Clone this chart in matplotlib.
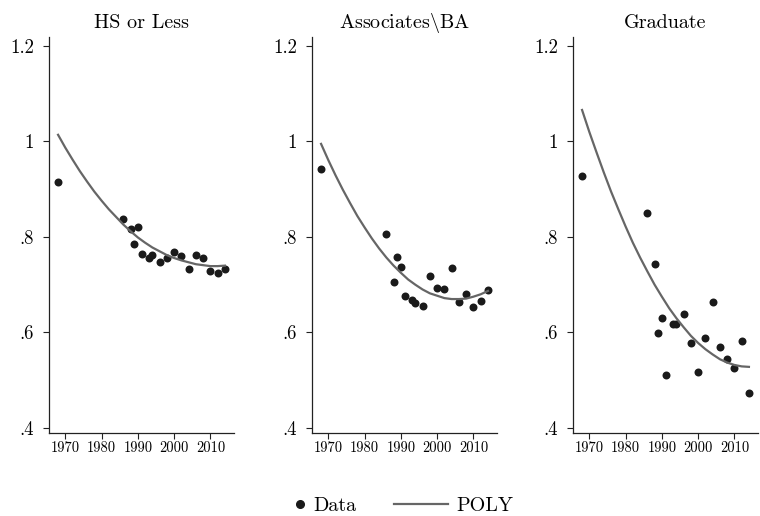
import numpy as np
import matplotlib
matplotlib.use("Agg")
import matplotlib.pyplot as plt
from matplotlib.lines import Line2D

plt.rcParams['font.family'] = 'serif'
plt.rcParams['font.serif'] = ['cmr10']
plt.rcParams['mathtext.fontset'] = 'cm'
plt.rcParams['axes.unicode_minus'] = False
plt.rcParams['axes.formatter.use_mathtext'] = True

# survey years with data
years = [1968, 1986, 1988, 1989, 1990, 1991, 1993, 1994, 1996, 1998,
         2000, 2002, 2004, 2006, 2008, 2010, 2012, 2014]
hs = [0.915, 0.837, 0.816, 0.785, 0.820, 0.764, 0.756, 0.762, 0.748, 0.757,
      0.768, 0.760, 0.732, 0.763, 0.757, 0.729, 0.725, 0.732]
ba = [0.942, 0.806, 0.705, 0.759, 0.737, 0.676, 0.669, 0.662, 0.656, 0.718,
      0.693, 0.691, 0.735, 0.663, 0.681, 0.654, 0.665, 0.688]
grad = [0.927, 0.850, 0.743, 0.599, 0.631, 0.512, 0.617, 0.618, 0.639, 0.579,
        0.518, 0.588, 0.664, 0.570, 0.544, 0.526, 0.583, 0.474]

# fitted polynomial, every 2 years
fit_years = list(range(1968, 2015, 2))
hs_fit = [1.014, 0.987, 0.962, 0.938, 0.916, 0.895, 0.876, 0.858, 0.842, 0.826,
          0.812, 0.799, 0.788, 0.778, 0.770, 0.762, 0.756, 0.751, 0.747, 0.743,
          0.741, 0.739, 0.739, 0.740]
ba_fit = [0.995, 0.961, 0.929, 0.899, 0.871, 0.844, 0.820, 0.797, 0.776, 0.757,
          0.740, 0.725, 0.711, 0.700, 0.690, 0.682, 0.677, 0.672, 0.670, 0.670,
          0.671, 0.675, 0.680, 0.687]
grad_fit = [1.066, 1.020, 0.977, 0.935, 0.895, 0.858, 0.822, 0.788, 0.757, 0.728,
            0.700, 0.675, 0.651, 0.630, 0.611, 0.593, 0.578, 0.565, 0.554, 0.544,
            0.537, 0.532, 0.529, 0.528]

titles = ["HS or Less", r"Associates$\backslash$BA", "Graduate"]
data = [hs, ba, grad]
fits = [hs_fit, ba_fit, grad_fit]

yticks = [0.4, 0.6, 0.8, 1.0, 1.2]
ylabels = [".4", ".6", ".8", "1", "1.2"]
xticks = [1970, 1980, 1990, 2000, 2010]

dot_col = '#1a1a1a'
line_col = '#666666'

fig = plt.figure(figsize=(7.6, 5.16), dpi=100)
lefts = [49/760, 312/760, 573/760]
for i in range(3):
    ax = fig.add_axes([lefts[i], 1 - 433/516, 185/760, (433 - 37.3)/516])
    ax.scatter(years, data[i], s=33, color=dot_col, linewidths=0, zorder=2)
    ax.plot(fit_years, fits[i], color=line_col, lw=1.6, zorder=3)
    ax.set_xlim(1965.5, 2016.5)
    ax.set_ylim(0.3895, 1.2182)
    ax.set_yticks(yticks)
    ax.set_yticklabels(ylabels)
    ax.set_xticks(xticks)
    ax.set_xticklabels([str(x) for x in xticks])
    ax.spines['top'].set_visible(False)
    ax.spines['right'].set_visible(False)
    for s in ['left', 'bottom']:
        ax.spines[s].set_linewidth(0.9)
        ax.spines[s].set_color('#222222')
    ax.tick_params(axis='y', length=4.3, width=0.8, pad=6.5, labelsize=13.5, color='#222222')
    ax.tick_params(axis='x', length=4.3, width=0.8, pad=1.5, labelsize=10.4, color='#222222')
    ax.set_title(titles[i], fontsize=14.5, pad=7)

# legend, two pieces so the marker and line get their own handle widths
h1 = Line2D([], [], marker='o', ls='none', color=dot_col, markersize=5.5)
h2 = Line2D([], [], color=line_col, lw=1.6)
fig.legend([h1], ["Data"], loc='center left', bbox_to_anchor=(294/760, 0.019),
           frameon=False, fontsize=14.5, handlelength=0.6, handletextpad=0.35,
           borderpad=0, borderaxespad=0)
fig.legend([h2], ["POLY"], loc='center left', bbox_to_anchor=(394/760, 0.019),
           frameon=False, fontsize=14.5, handlelength=2.7, handletextpad=0.4,
           borderpad=0, borderaxespad=0)

fig.savefig("out.png", dpi=100)
